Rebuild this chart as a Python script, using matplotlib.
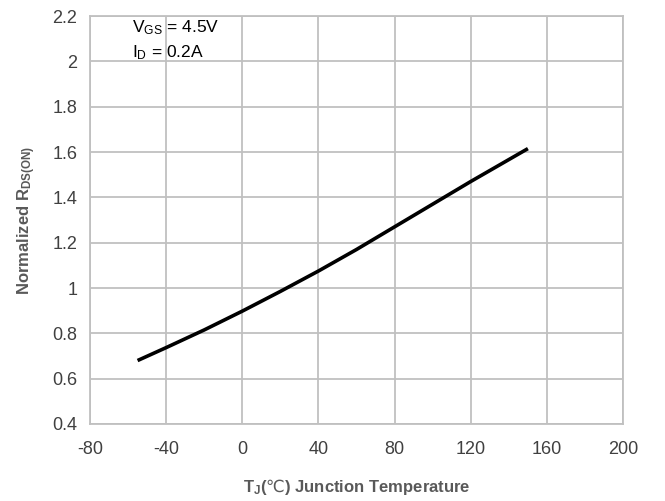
import matplotlib
matplotlib.use('Agg')
import matplotlib.pyplot as plt

temps = [-55, -40, -20, 0, 20, 40, 60, 80, 100, 120, 150]
rds_norm = [0.68, 0.737, 0.815, 0.898, 0.985, 1.075, 1.17, 1.27, 1.37, 1.47, 1.615]
x_ticks = [-80, -40, 0, 40, 80, 120, 160, 200]
y_ticks = [0.4, 0.6, 0.8, 1.0, 1.2, 1.4, 1.6, 1.8, 2.0, 2.2]
y_labels = ['0.4', '0.6', '0.8', '1', '1.2', '1.4', '1.6', '1.8', '2', '2.2']

plt.rcParams['font.family'] = ['Liberation Sans', 'DejaVu Sans']
plt.rcParams['axes.unicode_minus'] = False
plt.rcParams['mathtext.fontset'] = 'custom'
plt.rcParams['mathtext.rm'] = 'Liberation Sans'
plt.rcParams['mathtext.it'] = 'Liberation Sans'
plt.rcParams['mathtext.bf'] = 'Liberation Sans:bold'
plt.rcParams['mathtext.sf'] = 'DejaVu Sans'

fig = plt.figure(figsize=(6.65, 5.01), dpi=100)
ax = fig.add_axes([0.1353, 0.1537, 0.8017, 0.8143])

ax.plot(temps, rds_norm, color='black', linewidth=2.6, solid_capstyle='butt')

ax.set_xlim(-80, 200)
ax.set_ylim(0.4, 2.2)
ax.set_xticks(x_ticks)
ax.set_yticks(y_ticks)
ax.set_yticklabels(y_labels)
ax.tick_params(length=0, labelsize=13, colors='#404040')
ax.tick_params(axis='x', pad=12)
ax.tick_params(axis='y', pad=9)
ax.grid(True, color='#c0c0c0', linewidth=1.3)
for s in ax.spines.values():
    s.set_color('#c0c0c0')
    s.set_linewidth(1.3)
ax.set_axisbelow(True)

ax.set_xlabel(r'T$_{\mathbf{J}}$($\mathsf{℃}$) Junction Temperature', fontsize=12,
              fontweight='bold', color='#595959', labelpad=14)
ax.set_ylabel(r'Normalized R$_{\mathbf{DS(ON)}}$', fontsize=12,
              fontweight='bold', color='#595959', labelpad=10)

ax.text(-58, 2.15, r'V$_{\mathrm{GS}}$ = 4.5V', fontsize=12.5, va='center', color='black')
ax.text(-58, 2.04, r'I$_{\mathrm{D}}$ = 0.2A', fontsize=12.5, va='center', color='black')

fig.savefig('out.png', dpi=100)
